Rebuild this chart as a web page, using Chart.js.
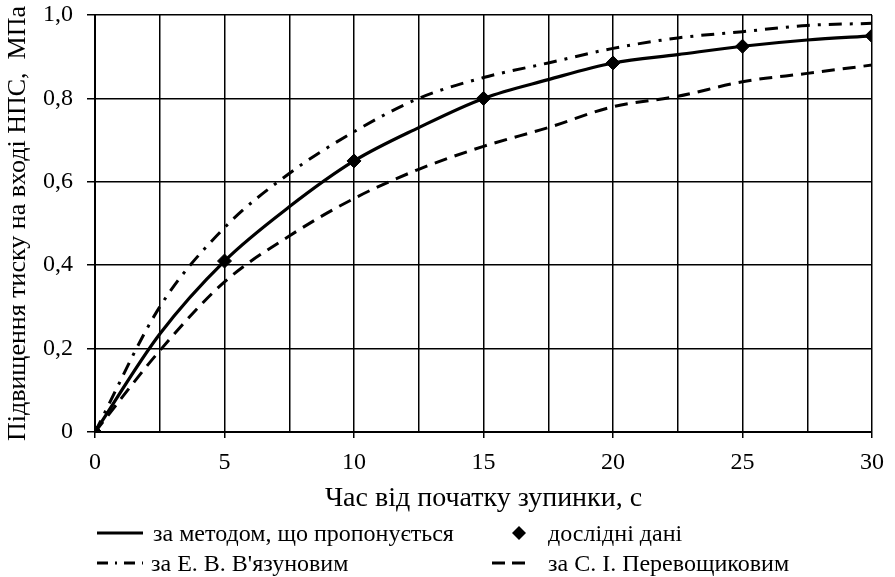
<!DOCTYPE html>
<html><head><meta charset="utf-8">
<script src="https://cdn.jsdelivr.net/npm/chart.js@4/dist/chart.umd.min.js"></script>
<style>
html,body{margin:0;padding:0;background:#fff;}
#wrap{position:relative;width:895px;height:577px;font-family:"Liberation Serif","Times New Roman",serif;color:#000;}
#c{position:absolute;left:0;top:0;}
.lg{position:absolute;font-size:24px;line-height:30px;height:30px;white-space:nowrap;}
.lg svg{position:absolute;top:10px;}
.lg span{position:absolute;top:0;}
</style></head>
<body><div id="wrap"><canvas id="c" width="895" height="577"></canvas>
<div class="lg" style="left:97px;top:518px;"><svg width="46" height="10"><line x1="0" y1="5" x2="46" y2="5" stroke="#000" stroke-width="3"/></svg><span style="left:56px">за методом, що пропонується</span></div>
<div class="lg" style="left:510px;top:518px;"><svg width="18" height="18" style="top:6px"><polygon points="9,2 16,9 9,16 2,9" fill="#000"/></svg><span style="left:38px">дослідні дані</span></div>
<div class="lg" style="left:97px;top:548px;"><svg width="46" height="10"><line x1="0" y1="5" x2="46" y2="5" stroke="#000" stroke-width="3" stroke-dasharray="11,7,2,7"/></svg><span style="left:54px">за Е. В. В'язуновим</span></div>
<div class="lg" style="left:492px;top:548px;"><svg width="40" height="10"><line x1="0" y1="5" x2="40" y2="5" stroke="#000" stroke-width="3" stroke-dasharray="13,7"/></svg><span style="left:56px">за С. І. Перевощиковим</span></div>
</div>
<script>
const xValues = [0, 2.5, 5, 7.5, 10, 12.5, 15, 17.5, 20, 22.5, 25, 27.5, 30];
const methodValues = [0, 0.235, 0.41, 0.54, 0.65, 0.73, 0.80, 0.845, 0.885, 0.905, 0.925, 0.94, 0.95];
const vyazunovValues = [0, 0.30, 0.49, 0.62, 0.72, 0.80, 0.85, 0.885, 0.92, 0.945, 0.96, 0.975, 0.98];
const perevValues = [0, 0.195, 0.36, 0.47, 0.56, 0.63, 0.685, 0.73, 0.78, 0.805, 0.84, 0.86, 0.88];
const expX = [0, 5, 10, 15, 20, 25, 30];
const expValues = [0, 0.41, 0.65, 0.80, 0.885, 0.925, 0.95];
const xTitle = 'Час від початку зупинки, с';
const yTitle = 'Підвищення тиску на вході НПС,  МПа';

const pts = (xs, ys) => xs.map((x, i) => ({x: x, y: ys[i]}));
const fam = '"Liberation Serif","Times New Roman",serif';

new Chart(document.getElementById('c'), {
  type: 'scatter',
  data: {
    datasets: [
      {label: 'за методом, що пропонується', data: pts(xValues, methodValues), showLine: true, borderColor: '#000', borderWidth: 3.2, pointRadius: 0, cubicInterpolationMode: 'monotone', order: 2},
      {label: 'за Е. В. В\'язуновим', data: pts(xValues, vyazunovValues), showLine: true, borderColor: '#000', borderWidth: 3, borderDash: [13, 8, 3, 8], pointRadius: 0, cubicInterpolationMode: 'monotone', order: 3},
      {label: 'за С. І. Перевощиковим', data: pts(xValues, perevValues), showLine: true, borderColor: '#000', borderWidth: 3, borderDash: [13, 8], pointRadius: 0, cubicInterpolationMode: 'monotone', order: 4},
      {label: 'дослідні дані', data: pts(expX, expValues), showLine: false, pointStyle: 'rectRot', pointRadius: 7, backgroundColor: '#000', borderColor: '#000', order: 1}
    ]
  },
  options: {
    responsive: false,
    animation: false,
    layout: {padding: {left: 0, right: 23, top: 15, bottom: 62}},
    plugins: {legend: {display: false}, tooltip: {enabled: false}},
    scales: {
      x: {
        type: 'linear', min: 0, max: 30,
        border: {color: '#000', width: 2},
        grid: {color: '#000', lineWidth: 1.5, drawTicks: true, tickLength: 6,
          tickColor: c => (c.tick && c.tick.value % 5 === 0) ? '#000' : 'rgba(0,0,0,0)'},
        ticks: {stepSize: 2.5, color: '#000', font: {family: fam, size: 24}, padding: 10, maxRotation: 0, autoSkip: false,
          callback: v => (v % 5 === 0) ? String(v) : ''},
        title: {display: true, text: xTitle, color: '#000', font: {family: fam, size: 28}, padding: {top: 0, bottom: 0}},
        afterFit: s => { s.height = 83; s.paddingLeft = 0; s.paddingRight = 0; }
      },
      y: {
        min: 0, max: 1,
        border: {color: '#000', width: 2},
        grid: {color: '#000', lineWidth: 1.5, drawTicks: true, tickLength: 8, tickColor: '#000'},
        ticks: {stepSize: 0.2, color: '#000', font: {family: fam, size: 24}, padding: 14,
          callback: v => v === 0 ? '0' : v.toFixed(1).replace('.', ',')},
        title: {display: true, text: yTitle, color: '#000', font: {family: fam, size: 26}, padding: {top: 3, bottom: 0}},
        afterFit: s => { s.width = 95; s.paddingTop = 0; s.paddingBottom = 0; }
      }
    }
  }
});
</script>
</body></html>
